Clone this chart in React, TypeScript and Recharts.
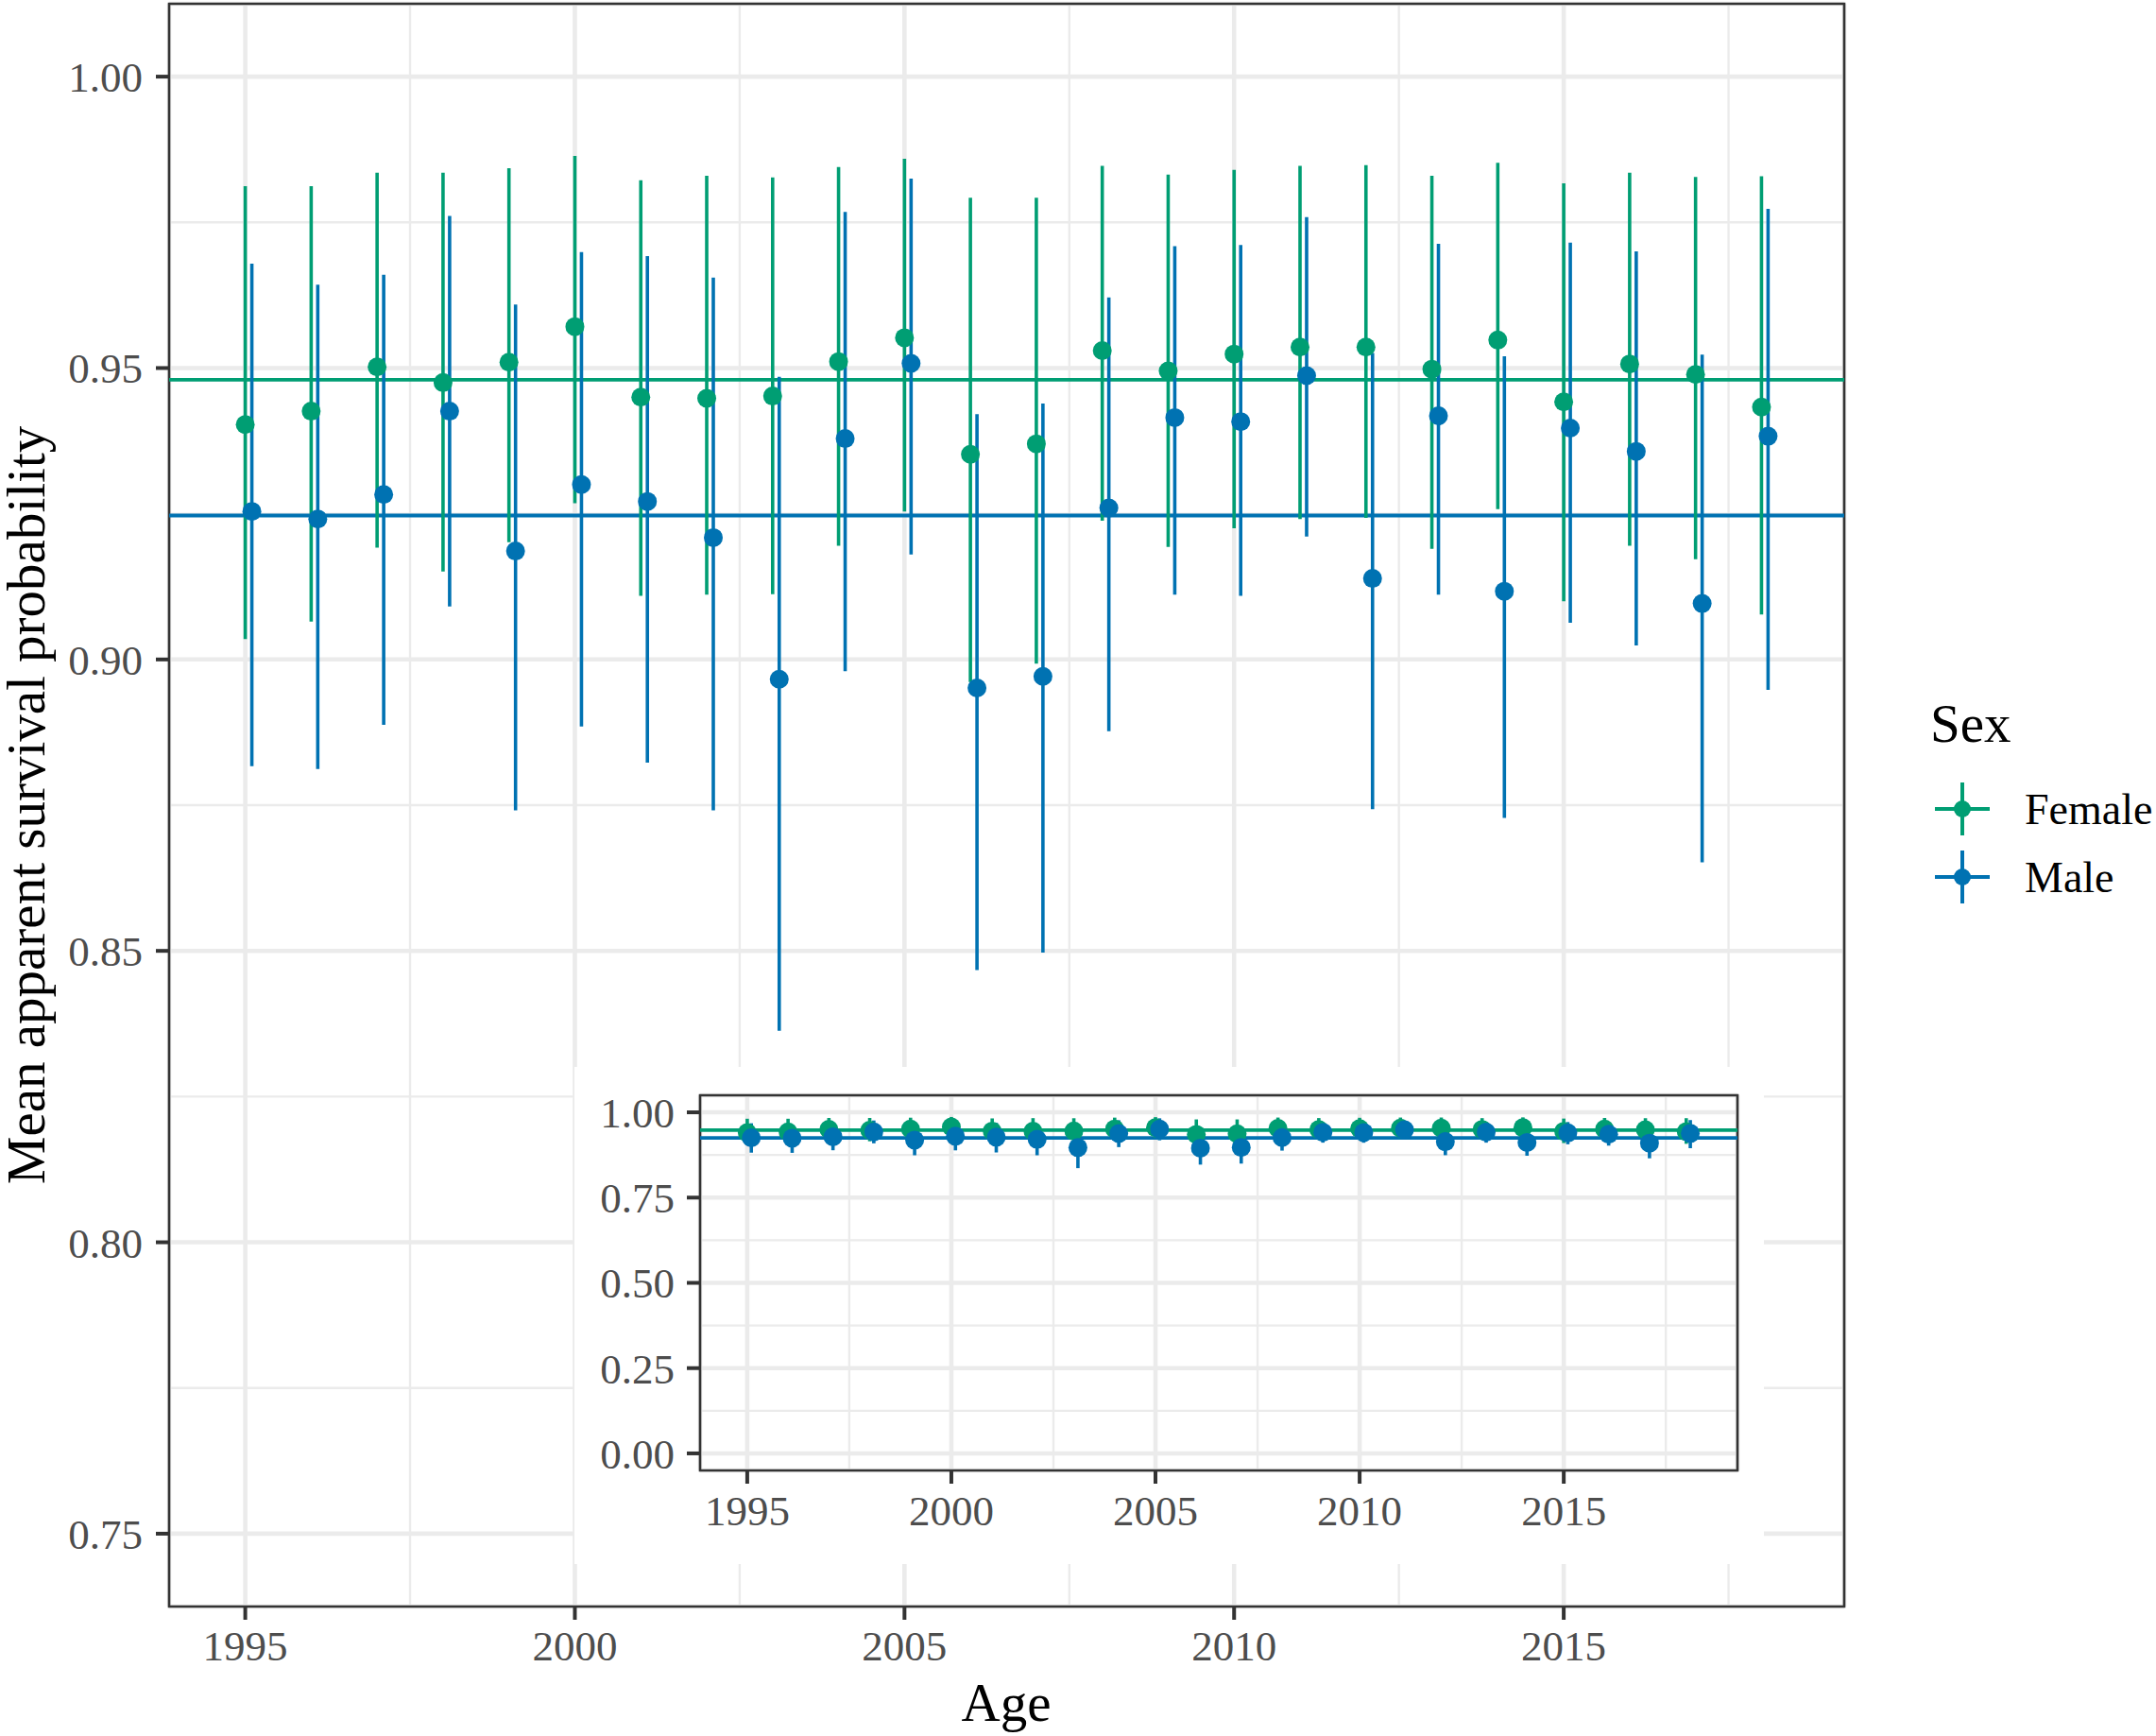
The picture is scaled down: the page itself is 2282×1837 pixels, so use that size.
import {
  ComposedChart, Scatter, ErrorBar, XAxis, YAxis, CartesianGrid, ReferenceLine, ReferenceArea
} from 'recharts';

const FONT = '"Liberation Serif", "Times New Roman", serif';
const GREEN = '#009E73';
const BLUE = '#0072B2';
const GRID = '#EBEBEB';
const INK = '#333333';
const TICK_TEXT = '#4D4D4D';

// years sampled, one pointrange per sex per year
const YEARS = [
  1995, 1996, 1997, 1998, 1999, 2000, 2001, 2002, 2003, 2004, 2005, 2006,
  2007, 2008, 2009, 2010, 2011, 2012, 2013, 2014, 2015, 2016, 2017, 2018
];

const FEMALE_MEAN = [
  0.9403, 0.9426, 0.9502, 0.9475, 0.9510, 0.9571, 0.9450, 0.9448, 0.9452, 0.9511, 0.9552, 0.9352,
  0.9370, 0.9530, 0.9495, 0.9524, 0.9536, 0.9536, 0.9498, 0.9548, 0.9442, 0.9507, 0.9489, 0.9433
];
const FEMALE_LOWER = [
  0.9035, 0.9065, 0.9192, 0.9151, 0.9201, 0.9268, 0.9109, 0.9111, 0.9112, 0.9195, 0.9254, 0.8961,
  0.8993, 0.9238, 0.9193, 0.9225, 0.9241, 0.9243, 0.9190, 0.9258, 0.9100, 0.9195, 0.9172, 0.9077
];
const FEMALE_UPPER = [
  0.9812, 0.9812, 0.9835, 0.9835, 0.9843, 0.9864, 0.9822, 0.9830, 0.9827, 0.9845, 0.9859, 0.9792,
  0.9792, 0.9847, 0.9832, 0.9840, 0.9847, 0.9848, 0.9830, 0.9852, 0.9817, 0.9835, 0.9828, 0.9829
];

const MALE_MEAN = [
  0.9254, 0.9241, 0.9283, 0.9426, 0.9186, 0.9300, 0.9271, 0.9209, 0.8966, 0.9379, 0.9508, 0.8951,
  0.8971, 0.9260, 0.9415, 0.9408, 0.9487, 0.9139, 0.9418, 0.9117, 0.9397, 0.9357, 0.9096, 0.9383
];
const MALE_LOWER = [
  0.8817, 0.8812, 0.8888, 0.9091, 0.8741, 0.8885, 0.8823, 0.8741, 0.8363, 0.8980, 0.9180, 0.8467,
  0.8497, 0.8877, 0.9111, 0.9109, 0.9211, 0.8743, 0.9111, 0.8728, 0.9063, 0.9024, 0.8652, 0.8948
];
const MALE_UPPER = [
  0.9679, 0.9643, 0.9660, 0.9761, 0.9609, 0.9699, 0.9692, 0.9655, 0.9485, 0.9768, 0.9825, 0.9421,
  0.9439, 0.9621, 0.9709, 0.9711, 0.9759, 0.9526, 0.9713, 0.9520, 0.9715, 0.9700, 0.9523, 0.9773
];

// overall means drawn as horizontal lines
const FEMALE_AVG = 0.948;
const MALE_AVG = 0.9247;

// males are dodged right by a tenth of a year
const MALE_SHIFT = 0.1;

const X_DOMAIN: [number, number] = [1993.845, 2019.255];
const X_TICKS = [1995, 2000, 2005, 2010, 2015];
const X_MINOR = [1997.5, 2002.5, 2007.5, 2012.5, 2017.5];

const MAIN_Y_DOMAIN: [number, number] = [0.7375, 1.0125];
const MAIN_Y_TICKS = [0.75, 0.8, 0.85, 0.9, 0.95, 1.0];
const MAIN_Y_MINOR = [0.775, 0.825, 0.875, 0.925, 0.975];

const INSET_Y_DOMAIN: [number, number] = [-0.05, 1.05];
const INSET_Y_TICKS = [0, 0.25, 0.5, 0.75, 1.0];
const INSET_Y_MINOR = [0.125, 0.375, 0.625, 0.875];

const SERIES = [
  { name: 'Female', color: GREEN },
  { name: 'Male', color: BLUE }
];

function buildRows(mean: number[], lower: number[], upper: number[], shift: number) {
  return YEARS.map((yr, i) => ({
    x: yr + shift,
    y: mean[i],
    err: [mean[i] - lower[i], upper[i] - mean[i]]
  }));
}

const femaleRows = buildRows(FEMALE_MEAN, FEMALE_LOWER, FEMALE_UPPER, 0);
const maleRows = buildRows(MALE_MEAN, MALE_LOWER, MALE_UPPER, MALE_SHIFT);

function dot(color: string, r: number) {
  return (props: any) => <circle cx={props.cx} cy={props.cy} r={r} fill={color} />;
}

interface PanelProps {
  width: number;
  height: number;
  margin: { top: number; right: number; bottom: number; left: number };
  yWidth: number;
  xHeight: number;
  yDomain: [number, number];
  yTicks: number[];
  yMinor: number[];
  fontSize: number;
  xTickMargin: number;
  yTickMargin: number;
}

function SurvivalPanel(p: PanelProps) {
  const tickStyle = { fill: TICK_TEXT, fontSize: p.fontSize, fontFamily: FONT };
  return (
    <ComposedChart width={p.width} height={p.height} margin={p.margin}>
      <CartesianGrid stroke={GRID} strokeWidth={2.4} horizontalValues={p.yMinor} verticalValues={X_MINOR} />
      <CartesianGrid stroke={GRID} strokeWidth={4.6} />
      <XAxis type="number" dataKey="x" domain={X_DOMAIN} ticks={X_TICKS} interval={0}
             allowDataOverflow axisLine={false} height={p.xHeight}
             tickSize={14} tickMargin={p.xTickMargin}
             tickLine={{ stroke: INK, strokeWidth: 4 }} tick={tickStyle} />
      <YAxis type="number" dataKey="y" domain={p.yDomain} ticks={p.yTicks} interval={0}
             allowDataOverflow axisLine={false} width={p.yWidth}
             tickSize={14} tickMargin={p.yTickMargin}
             tickFormatter={(v: number) => v.toFixed(2)}
             tickLine={{ stroke: INK, strokeWidth: 4 }} tick={tickStyle} />
      <ReferenceLine y={FEMALE_AVG} stroke={GREEN} strokeWidth={3.8} />
      <ReferenceLine y={MALE_AVG} stroke={BLUE} strokeWidth={3.8} />
      <Scatter data={femaleRows} fill={GREEN} shape={dot(GREEN, 10)} isAnimationActive={false}>
        <ErrorBar dataKey="err" direction="y" width={0} stroke={GREEN} strokeWidth={3.6} isAnimationActive={false} />
      </Scatter>
      <Scatter data={maleRows} fill={BLUE} shape={dot(BLUE, 10)} isAnimationActive={false}>
        <ErrorBar dataKey="err" direction="y" width={0} stroke={BLUE} strokeWidth={3.6} isAnimationActive={false} />
      </Scatter>
      <ReferenceArea x1={X_DOMAIN[0]} x2={X_DOMAIN[1]} y1={p.yDomain[0]} y2={p.yDomain[1]}
                     fill="none" stroke={INK} strokeWidth={2.6} ifOverflow="visible" />
    </ComposedChart>
  );
}

export default function App() {
  return (
    <div style={{ position: 'absolute', left: 0, top: 0, width: 2282, height: 1837, background: '#fff', overflow: 'hidden', fontFamily: FONT }}>
      <div style={{ position: 'absolute', left: 0, top: 0 }}>
        <SurvivalPanel width={1960} height={1837}
                       margin={{ top: 4, right: 8, bottom: 57, left: 0 }}
                       yWidth={179} xHeight={80}
                       yDomain={MAIN_Y_DOMAIN} yTicks={MAIN_Y_TICKS} yMinor={MAIN_Y_MINOR}
                       fontSize={45} xTickMargin={11} yTickMargin={14} />
      </div>

      {/* inset with the full 0-1 scale */}
      <div style={{ position: 'absolute', left: 608, top: 1129, width: 1259, height: 526, background: '#fff' }}>
        <SurvivalPanel width={1259} height={526}
                       margin={{ top: 30, right: 28, bottom: 39, left: 0 }}
                       yWidth={133} xHeight={60}
                       yDomain={INSET_Y_DOMAIN} yTicks={INSET_Y_TICKS} yMinor={INSET_Y_MINOR}
                       fontSize={45} xTickMargin={12} yTickMargin={13} />
      </div>

      <div style={{ position: 'absolute', left: 28, top: 852, transform: 'translate(-50%, -50%) rotate(180deg)',
                    writingMode: 'vertical-rl', fontSize: 57, lineHeight: 0.9, whiteSpace: 'nowrap', color: '#000' }}>
        Mean apparent survival probability
      </div>
      <div style={{ position: 'absolute', left: 1065, top: 1773, transform: 'translateX(-50%)',
                    fontSize: 57, lineHeight: 1, whiteSpace: 'nowrap', color: '#000' }}>
        Age
      </div>

      {/* legend */}
      <div style={{ position: 'absolute', left: 2043, top: 737, fontSize: 57, lineHeight: 1, color: '#000' }}>Sex</div>
      {SERIES.map((s, i) => (
        <div key={s.name}>
          <svg style={{ position: 'absolute', left: 2047, top: 826 + i * 72 }} width={60} height={60}>
            <line x1={1} x2={59} y1={30} y2={30} stroke={s.color} strokeWidth={4} />
            <line x1={30} x2={30} y1={2} y2={58} stroke={s.color} strokeWidth={4} />
            <circle cx={30} cy={30} r={9} fill={s.color} />
          </svg>
          <div style={{ position: 'absolute', left: 2143, top: 834 + i * 72, fontSize: 46, lineHeight: 1, color: '#000' }}>
            {s.name}
          </div>
        </div>
      ))}
    </div>
  );
}
